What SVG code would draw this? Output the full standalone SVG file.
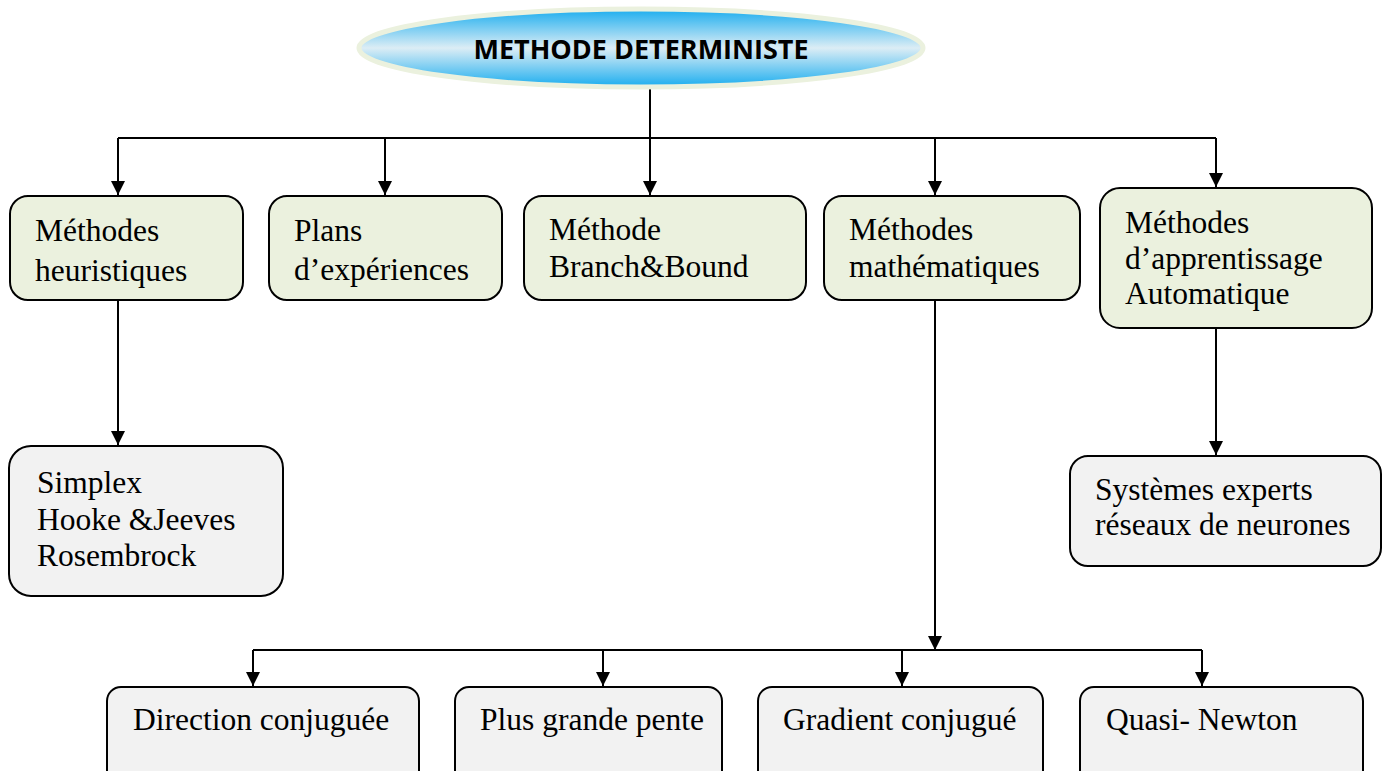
<svg xmlns="http://www.w3.org/2000/svg" width="1387" height="771" viewBox="0 0 1387 771">
  <style>
    .lvl1 { fill: #ebf1de; stroke: #000; stroke-width: 2; }
    .lvl2 { fill: #f2f2f2; stroke: #000; stroke-width: 2; }
    .lbl { font-family: "Liberation Serif", "Times New Roman", serif; font-size: 31.5px; fill: #000; }
    .title { font-family: "Open Sans", "Liberation Sans", sans-serif; font-weight: bold; font-size: 27px; fill: #000; }
    .wire { fill: none; stroke: #000; stroke-width: 2; }
  </style>
  <defs>
    <linearGradient id="blueGrad" x1="0" y1="0" x2="0" y2="1">
      <stop offset="0" stop-color="#1aadef"/>
      <stop offset="0.5" stop-color="#dcedf5"/>
      <stop offset="1" stop-color="#1aadef"/>
    </linearGradient>
    <marker id="arrow" viewBox="0 0 10 10" refX="10" refY="5" markerWidth="14" markerHeight="14" markerUnits="userSpaceOnUse" orient="auto">
      <path d="M0,0 L10,5 L0,10 z" fill="#000"/>
    </marker>
  </defs>

  <!-- connectors -->
  <g id="connectors">
    <path class="wire" d="M650,88 V138"/>
    <path class="wire" d="M118,138 H1216"/>
    <path class="wire" d="M118,138 V195" marker-end="url(#arrow)"/>
    <path class="wire" d="M385,138 V195" marker-end="url(#arrow)"/>
    <path class="wire" d="M650,138 V195" marker-end="url(#arrow)"/>
    <path class="wire" d="M935,138 V195" marker-end="url(#arrow)"/>
    <path class="wire" d="M1216,138 V187" marker-end="url(#arrow)"/>
    <path class="wire" d="M118,300 V445" marker-end="url(#arrow)"/>
    <path class="wire" d="M1216,328 V455" marker-end="url(#arrow)"/>
    <path class="wire" d="M935,300 V650" marker-end="url(#arrow)"/>
    <path class="wire" d="M253,650 H1202"/>
    <path class="wire" d="M253,650 V686" marker-end="url(#arrow)"/>
    <path class="wire" d="M603,650 V686" marker-end="url(#arrow)"/>
    <path class="wire" d="M902,650 V686" marker-end="url(#arrow)"/>
    <path class="wire" d="M1202,650 V686" marker-end="url(#arrow)"/>
  </g>

  <!-- root -->
  <g id="root">
    <ellipse cx="641" cy="48" rx="282" ry="39" fill="url(#blueGrad)" stroke="#ebf1de" stroke-width="5"/>
    <text class="title" x="641" y="59" text-anchor="middle">METHODE DETERMINISTE</text>
  </g>

  <g id="heuristiques">
    <rect class="lvl1" x="10" y="196" width="233" height="104" rx="18"/>
    <text class="lbl" x="35" y="241">Méthodes</text>
    <text class="lbl" x="35" y="281">heuristiques</text>
  </g>

  <g id="plans">
    <rect class="lvl1" x="269" y="196" width="233" height="104" rx="18"/>
    <text class="lbl" x="294" y="241">Plans</text>
    <text class="lbl" x="294" y="280">d’expériences</text>
  </g>

  <g id="branch">
    <rect class="lvl1" x="524" y="196" width="282" height="104" rx="18"/>
    <text class="lbl" x="549" y="240">Méthode</text>
    <text class="lbl" x="549" y="277">Branch&amp;Bound</text>
  </g>

  <g id="mathematiques">
    <rect class="lvl1" x="824" y="196" width="256" height="104" rx="18"/>
    <text class="lbl" x="849" y="240">Méthodes</text>
    <text class="lbl" x="849" y="277">mathématiques</text>
  </g>

  <g id="apprentissage">
    <rect class="lvl1" x="1100" y="188" width="272" height="140" rx="20"/>
    <text class="lbl" x="1125" y="233">Méthodes</text>
    <text class="lbl" x="1125" y="269">d’apprentissage</text>
    <text class="lbl" x="1125" y="304">Automatique</text>
  </g>

  <g id="simplex">
    <rect class="lvl2" x="9" y="446" width="274" height="150" rx="22"/>
    <text class="lbl" x="37" y="493">Simplex</text>
    <text class="lbl" x="37" y="530">Hooke &amp;Jeeves</text>
    <text class="lbl" x="37" y="566">Rosembrock</text>
  </g>

  <g id="systemes">
    <rect class="lvl2" x="1070" y="456" width="311" height="110" rx="18"/>
    <text class="lbl" x="1095" y="500">Systèmes experts</text>
    <text class="lbl" x="1095" y="535">réseaux de neurones</text>
  </g>

  <g id="direction">
    <rect class="lvl2" x="107" y="687" width="312" height="100" rx="14"/>
    <text class="lbl" x="133" y="730">Direction conjuguée</text>
  </g>

  <g id="pente">
    <rect class="lvl2" x="455" y="687" width="267" height="100" rx="14"/>
    <text class="lbl" x="480" y="730">Plus grande pente</text>
  </g>

  <g id="gradient">
    <rect class="lvl2" x="758" y="687" width="285" height="100" rx="14"/>
    <text class="lbl" x="783" y="730">Gradient conjugué</text>
  </g>

  <g id="quasinewton">
    <rect class="lvl2" x="1080" y="687" width="283" height="100" rx="14"/>
    <text class="lbl" x="1106" y="730">Quasi- Newton</text>
  </g>
</svg>
